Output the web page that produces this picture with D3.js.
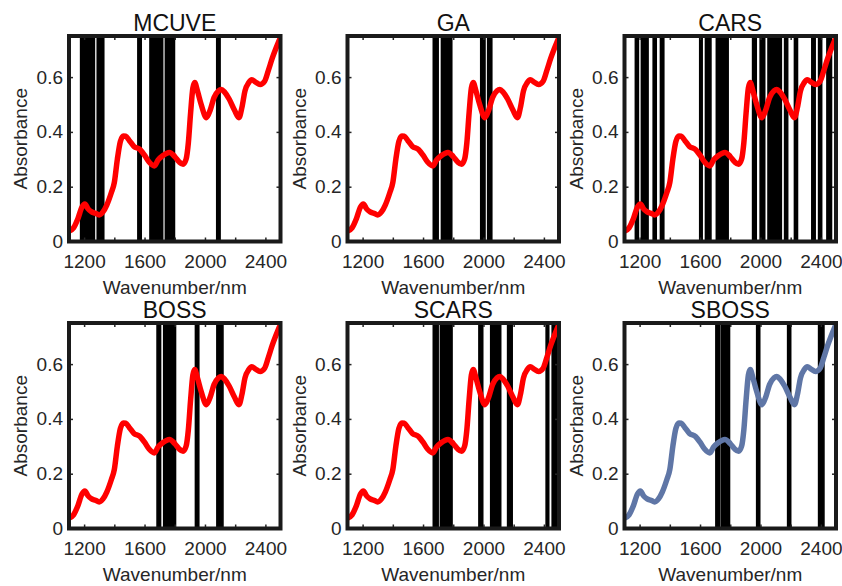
<!DOCTYPE html>
<html>
<head>
<meta charset="utf-8">
<script src="https://cdn.jsdelivr.net/npm/d3@7"></script>
<style>
  body { margin: 0; background: #fff; }
  svg text { font-family: "Liberation Sans", Arial, sans-serif; fill: #262626; }
</style>
</head>
<body>
<div id="chart"></div>
<script>
// 1. Data
// mean spectrum (same curve in every panel)
const wavelengths = [1100, 1130, 1160, 1185, 1205, 1225, 1250, 1275, 1300, 1325, 1350, 1380, 1400, 1420,
    1440, 1460, 1475, 1500, 1530, 1570, 1600, 1630, 1665, 1690, 1720, 1765, 1800, 1830, 1855, 1875,
    1890, 1905, 1920, 1932, 1950, 1975, 2010, 2035, 2060, 2090, 2108, 2130, 2160, 2195, 2225, 2245,
    2265, 2290, 2310, 2335, 2365, 2395, 2420, 2445, 2470, 2500];
const absorbance = [0.038, 0.05, 0.085, 0.125, 0.137, 0.12, 0.108, 0.103, 0.097, 0.108, 0.133, 0.178, 0.215, 0.30,
    0.365, 0.385, 0.384, 0.368, 0.347, 0.336, 0.315, 0.29, 0.276, 0.298, 0.313, 0.325, 0.31, 0.29, 0.282, 0.30,
    0.36, 0.47, 0.56, 0.58, 0.55, 0.50, 0.452, 0.48, 0.525, 0.55, 0.555, 0.545, 0.52, 0.48, 0.452, 0.49,
    0.55, 0.58, 0.59, 0.582, 0.573, 0.585, 0.625, 0.668, 0.705, 0.745];

const methods = ["MCUVE", "GA", "CARS", "BOSS", "SCARS", "SBOSS"];

// selected wavelength bands, [from, to] in nm
const mcuveBands = [[1177, 1268], [1287, 1330], [1556, 1578], [1636, 1720], [1738, 1798], [2078, 2100]];
const gaBands = [[1668, 1700], [1722, 1790], [1982, 2010], [2028, 2055]];
const carsBands = [[1172, 1192], [1212, 1232], [1240, 1256], [1290, 1310], [1338, 1360],
    [1598, 1614], [1636, 1650], [1658, 1672], [1708, 1786],
    [1948, 1972], [1998, 2028], [2050, 2072], [2080, 2100], [2108, 2138], [2160, 2180],
    [2225, 2245], [2340, 2362], [2385, 2405], [2440, 2470]];
const bossBands = [[1683, 1706], [1727, 1805], [1937, 1959], [2079, 2119]];
const scarsBands = [[1668, 1700], [1715, 1792], [1970, 1995], [2048, 2114], [2160, 2190], [2415, 2432], [2455, 2482]];
const sbossBands = [[1705, 1728], [1740, 1795], [1975, 1995], [2180, 2200], [2385, 2420]];
const bands = [mcuveBands, gaBands, carsBands, bossBands, scarsBands, sbossBands];

const xTicks = [1200, 1400, 1600, 1800, 2000, 2200, 2400];
const xLabels = [1200, 1600, 2000, 2400];
const yTicks = [0, 0.2, 0.4, 0.6];

// 2. Layout
const colLeft = [69, 347.5, 624.5];
const rowTop = [36, 323];
const pw = 211.5, ph = 205.5;

const svg = d3.select("#chart").append("svg")
    .attr("width", 842)
    .attr("height", 586);

const x = d3.scaleLinear().domain([1100, 2500]).range([0, pw]);
const y = d3.scaleLinear().domain([0, 0.75]).range([ph, 0]);

const spectrum = wavelengths.map((w, i) => ({w: w, a: absorbance[i]}));
const line = d3.line().x(d => x(d.w)).y(d => y(d.a)).curve(d3.curveMonotoneX);

svg.append("defs").append("clipPath").attr("id", "plot-clip")
    .append("rect").attr("width", pw).attr("height", ph);

methods.forEach((name, i) => {
    const g = svg.append("g")
        .attr("transform", `translate(${colLeft[i % 3]},${rowTop[Math.floor(i / 3)]})`);

    const plot = g.append("g").attr("clip-path", "url(#plot-clip)");

    // selected variables (stroke gives single lines their thickness)
    plot.selectAll("rect.band")
        .data(bands[i])
        .join("rect")
        .attr("class", "band")
        .attr("x", d => x(d[0]))
        .attr("width", d => x(d[1]) - x(d[0]))
        .attr("y", -2)
        .attr("height", ph + 4)
        .attr("fill", "#000")
        .attr("stroke", "#000")
        .attr("stroke-width", 1.6);

    plot.append("path")
        .datum(spectrum)
        .attr("d", line)
        .attr("fill", "none")
        .attr("stroke", name === "SBOSS" ? "#5f76a6" : "#ff0000")
        .attr("stroke-width", 5.5)
        .attr("stroke-linejoin", "round");

    // axes with inward ticks on all four sides
    g.append("g")
        .attr("transform", `translate(0,${ph})`)
        .call(d3.axisBottom(x).tickValues(xTicks).tickSize(-4).tickPadding(13)
            .tickFormat(d => xLabels.includes(d) ? d : ""));
    g.append("g")
        .call(d3.axisTop(x).tickValues(xTicks).tickSize(-4).tickFormat(""));
    g.append("g")
        .call(d3.axisLeft(y).tickValues(yTicks).tickSize(-4).tickPadding(6)
            .tickFormat(d => d === 0 ? "0" : d3.format(".1f")(d)));
    g.append("g")
        .attr("transform", `translate(${pw},0)`)
        .call(d3.axisRight(y).tickValues(yTicks).tickSize(-4).tickFormat(""));

    g.selectAll(".domain").remove();
    g.selectAll(".tick line").attr("stroke", "#262626").attr("stroke-width", 1.5);
    g.selectAll(".tick text").style("font-size", "19px").attr("fill", "#262626");

    // thick box
    g.append("rect")
        .attr("width", pw)
        .attr("height", ph)
        .attr("fill", "none")
        .attr("stroke", "#1a1a1a")
        .attr("stroke-width", 4);

    g.append("text")
        .attr("x", pw / 2)
        .attr("y", -5)
        .attr("text-anchor", "middle")
        .style("font-size", "23px")
        .style("fill", "#111")
        .text(name);

    g.append("text")
        .attr("x", pw / 2)
        .attr("y", ph + 52)
        .attr("text-anchor", "middle")
        .style("font-size", "19px")
        .text("Wavenumber/nm");

    g.append("text")
        .attr("transform", `translate(-42,${ph / 2}) rotate(-90)`)
        .attr("text-anchor", "middle")
        .style("font-size", "19px")
        .text("Absorbance");
});
</script>
</body>
</html>
